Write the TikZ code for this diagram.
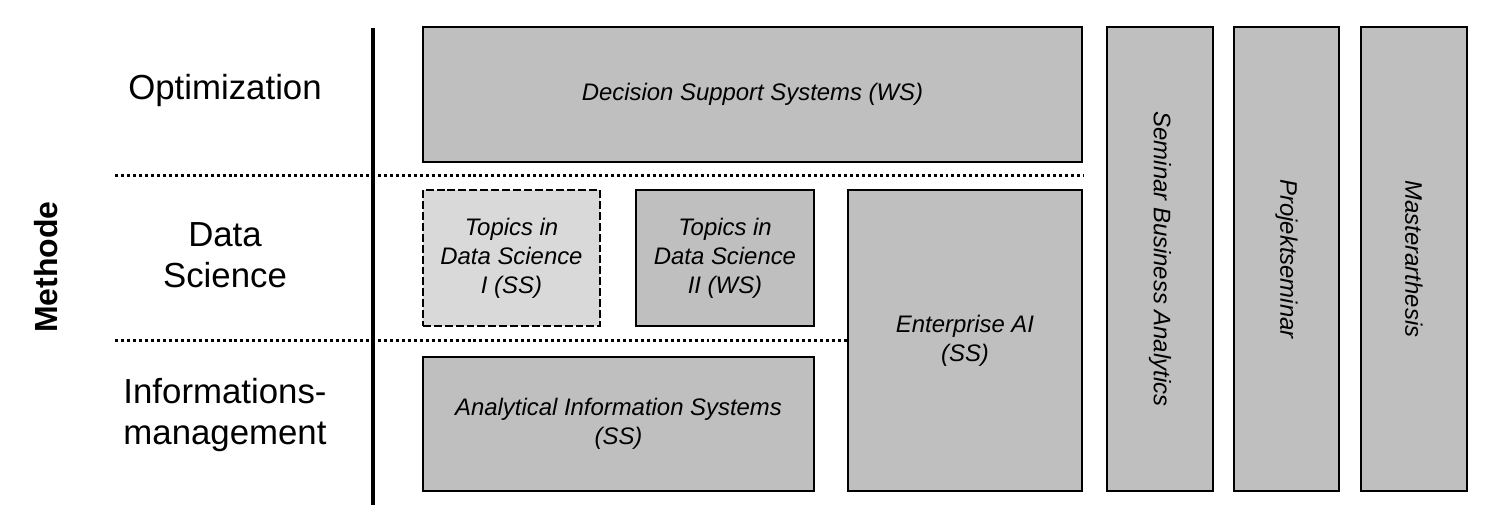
\documentclass[tikz,border=0pt]{standalone}
\usepackage{fontspec}
\setmainfont{Liberation Sans}
\definecolor{boxgray}{HTML}{BFBFBF}
\definecolor{lightgray}{HTML}{D9D9D9}

\begin{document}
\begin{tikzpicture}[
  course/.style={draw, line width=1.1pt, fill=boxgray, inner sep=0pt, align=center,
    font=\fontsize{13.6}{16.4}\selectfont\itshape},
  optional/.style={course, fill=lightgray, dash pattern=on 4.5pt off 1.7pt},
  rowlabel/.style={align=center, font=\fontsize{19.8}{23}\selectfont},
  rowsep/.style={line width=1.7pt, dash pattern=on 1.7pt off 1.7pt},
]
  \useasboundingbox (0,0) rectangle (29.98,-10.44);
  % Achse links
  \node[rotate=90, font=\fontsize{18.2}{20}\selectfont\bfseries] (methode) at (0.92,-5.34) {Methode};
  \node[rowlabel] (opt) at (4.50,-1.80) {Optimization};
  \node[rowlabel] (ds)  at (4.50,-5.10) {Data\\Science};
  \node[rowlabel] (im)  at (4.50,-8.30) {Informations-\\management};
  \coordinate (vtop) at (7.46,-0.56);
  \coordinate (vbot) at (7.46,-10.10);
  \draw[line width=1.9pt] (vtop) -- (vbot);
  % Trennlinien
  \coordinate (sepA) at (2.30,-3.50);
  \coordinate (sepB) at (21.66,-3.50);
  \coordinate (sepC) at (2.30,-6.80);
  \draw[rowsep] (sepA) -- (sepB);
  % Veranstaltungen
  \node[course, minimum width=13.18cm, minimum height=2.70cm] (dss) at (15.05,-1.89)
    {Decision Support Systems (WS)};
  \node[optional, minimum width=3.54cm, minimum height=2.72cm] (tds1) at (10.23,-5.16)
    {Topics in\\Data Science\\I (SS)};
  \node[course, minimum width=3.56cm, minimum height=2.72cm] (tds2) at (14.50,-5.16)
    {Topics in\\Data Science\\II (WS)};
  \node[course, minimum width=4.68cm, minimum height=6.02cm] (eai) at (19.30,-6.81)
    {Enterprise AI\\(SS)};
  \node[course, minimum width=7.82cm, minimum height=2.68cm] (ais) at (12.37,-8.48)
    {Analytical Information Systems\\(SS)};
  \draw[rowsep] (sepC) -- (sepC -| eai.west);
  % Seminare und Abschluss
  \node[course, rotate=-90, minimum width=9.28cm, minimum height=2.12cm] (sba) at (23.20,-5.18)
    {Seminar Business Analytics};
  \node[course, rotate=-90, minimum width=9.28cm, minimum height=2.10cm] (ps) at (25.73,-5.18)
    {Projektseminar};
  \node[course, rotate=-90, minimum width=9.28cm, minimum height=2.12cm] (mt) at (28.28,-5.18)
    {Masterarthesis};
\end{tikzpicture}
\end{document}
